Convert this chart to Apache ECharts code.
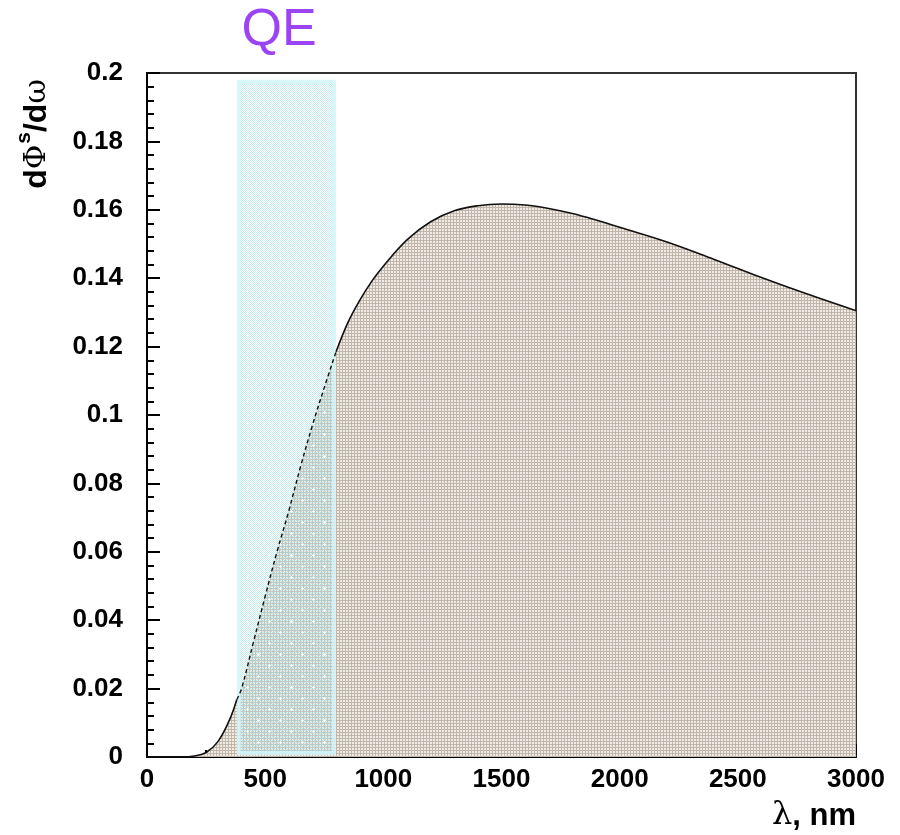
<!DOCTYPE html>
<html>
<head>
<meta charset="utf-8">
<script src="https://cdn.jsdelivr.net/npm/echarts@6/dist/echarts.min.js"></script>
<style>
  html, body { margin: 0; padding: 0; background: #fff; }
  #chart { width: 900px; height: 835px; }
</style>
</head>
<body>
<div id="chart"></div>
<script>
// wavelength (nm) and flux values
var wavelength = [0, 100, 150, 200, 250, 300, 350, 380, 400, 450, 500, 550, 600, 650, 700, 750, 800,
  850, 900, 950, 1000, 1100, 1200, 1300, 1400, 1500, 1600, 1700, 1800, 1900, 2000,
  2200, 2400, 2600, 2800, 3000];
var flux = [0, 0, 0, 0.0003, 0.0013, 0.0045, 0.011, 0.0168, 0.020, 0.0335, 0.047, 0.060, 0.072, 0.085, 0.097, 0.108, 0.1185,
  0.127, 0.1335, 0.139, 0.1435, 0.1512, 0.1565, 0.1597, 0.1612, 0.1617, 0.1614, 0.1604, 0.1589, 0.1570, 0.1549,
  0.1506, 0.1455, 0.1402, 0.1352, 0.1305];
// QE band
var qeRange = [380, 800];
var qeTop = 0.198;
var qeBottom = 0.0006;

var chart = echarts.init(document.getElementById('chart'));

// tan grid pattern for the area fill
function makeFillPattern() {
  var c = document.createElement('canvas');
  c.width = 3; c.height = 3;
  var ctx = c.getContext('2d');
  ctx.fillStyle = '#f0ebe6';
  ctx.fillRect(0, 0, 3, 3);
  ctx.fillStyle = '#c0b6aa';
  ctx.fillRect(0, 0, 3, 1);
  ctx.fillRect(0, 0, 1, 3);
  return c;
}

// cyan checker with white dots for the QE band
function makeBandPattern() {
  var c = document.createElement('canvas');
  c.width = 22; c.height = 22;
  var ctx = c.getContext('2d');
  for (var i = 0; i < 22; i++) {
    for (var j = 0; j < 22; j++) {
      ctx.fillStyle = (i + j) % 2 === 0 ? 'rgba(165,222,226,0.62)' : 'rgba(235,250,250,0.25)';
      ctx.fillRect(i, j, 1, 1);
    }
  }
  ctx.fillStyle = 'rgba(255,255,255,0.85)';
  [[5, 5], [16, 16]].forEach(function (p) {
    ctx.fillRect(p[0] - 1, p[1], 3, 1);
    ctx.fillRect(p[0], p[1] - 1, 1, 3);
  });
  return c;
}

var pts = wavelength.map(function (x, i) { return [x, flux[i]]; });
var solidLeft = pts.filter(function (p) { return p[0] <= qeRange[0]; });
var solidRight = pts.filter(function (p) { return p[0] >= qeRange[1]; });
var dashPts = pts.filter(function (p) {
  return p[0] >= qeRange[0] && p[0] <= qeRange[1];
});

var labelFont = {
  fontFamily: 'Liberation Sans, Arial, sans-serif',
  fontWeight: 'bold',
  fontSize: 26,
  color: '#000'
};

var bandPattern = makeBandPattern();
var fillPattern = makeFillPattern();

function curveSeries(name, data, dashed) {
  return {
    name: name,
    type: 'line',
    data: data,
    smooth: 0.4,
    symbol: 'none',
    z: 4,
    lineStyle: dashed ? { color: '#111', width: 1.4, type: [4, 3] } : { color: '#111', width: 1.6 }
  };
}

var option = {
  backgroundColor: '#fff',
  animation: false,
  grid: {
    left: 147,
    right: 44,
    top: 73,
    bottom: 78,
    show: true,
    borderColor: '#333',
    borderWidth: 2,
    backgroundColor: 'transparent'
  },
  xAxis: {
    type: 'value',
    min: 0,
    max: 3000,
    interval: 500,
    axisLine: { lineStyle: { color: '#000', width: 2 } },
    axisTick: { inside: true, length: 13, lineStyle: { color: '#000', width: 2 } },
    minorTick: { show: true, splitNumber: 2, length: 7, lineStyle: { color: '#000', width: 2 } },
    splitLine: { show: false },
    axisLabel: Object.assign({
      margin: 10,
      showMinLabel: true,
      showMaxLabel: true,
      formatter: function (v) { return String(v); }
    }, labelFont)
  },
  yAxis: {
    type: 'value',
    min: 0,
    max: 0.2,
    interval: 0.02,
    axisLine: { show: true, lineStyle: { color: '#000', width: 2 } },
    axisTick: { show: true, inside: true, length: 13, lineStyle: { color: '#000', width: 2 } },
    minorTick: { show: true, splitNumber: 5, length: 7, lineStyle: { color: '#000', width: 2 } },
    splitLine: { show: false },
    axisLabel: Object.assign({ margin: 24 }, labelFont)
  },
  graphic: [
    {
      type: 'text',
      x: 279, y: 31,
      style: {
        text: 'QE',
        fill: '#9a44f6',
        fontSize: 52,
        fontFamily: 'Liberation Sans, Arial, sans-serif',
        align: 'center',
        verticalAlign: 'middle'
      }
    },
    {
      type: 'text',
      x: 37, y: 134,
      rotation: Math.PI / 2,
      style: {
        text: '{b|d}{g|Φ}{sup|s}{b|/d}{g|ω}',
        align: 'center',
        verticalAlign: 'middle',
        fill: '#000',
        rich: {
          b: { fontFamily: 'Liberation Sans, Arial', fontWeight: 'bold', fontSize: 32, fill: '#000' },
          g: { fontFamily: 'DejaVu Serif, serif', fontSize: 30, fill: '#000' },
          sup: { fontFamily: 'Liberation Sans, Arial', fontWeight: 'bold', fontSize: 21, fill: '#000', padding: [0, 0, 26, 1] }
        }
      }
    },
    {
      type: 'text',
      x: 856, y: 816,
      style: {
        text: '{g|λ}{b|, nm}',
        align: 'right',
        verticalAlign: 'middle',
        fill: '#000',
        rich: {
          b: { fontFamily: 'Liberation Sans, Arial', fontWeight: 'bold', fontSize: 31, fill: '#000' },
          g: { fontFamily: 'DejaVu Serif, serif', fontSize: 32, fill: '#000' }
        }
      }
    }
  ],
  series: [
    {
      name: 'fill',
      type: 'line',
      data: pts,
      smooth: 0.4,
      symbol: 'none',
      z: 1,
      lineStyle: { width: 0 },
      areaStyle: { color: { image: fillPattern, repeat: 'repeat' }, opacity: 1 }
    },
    {
      name: 'QE',
      type: 'custom',
      z: 3,
      silent: true,
      data: [[qeRange[0], qeRange[1], qeBottom, qeTop]],
      renderItem: function (params, api) {
        var p0 = api.coord([api.value(0), api.value(3)]);
        var p1 = api.coord([api.value(1), api.value(2)]);
        return {
          type: 'rect',
          shape: { x: p0[0] + 2, y: p0[1] + 2, width: p1[0] - p0[0] - 4, height: p1[1] - p0[1] - 4 },
          style: {
            fill: { image: bandPattern, repeat: 'repeat' },
            stroke: 'rgba(210,246,248,0.85)',
            lineWidth: 4
          }
        };
      }
    },
    curveSeries('curveL', solidLeft, false),
    curveSeries('curveQE', dashPts, true),
    curveSeries('curveR', solidRight, false)
  ]
};

chart.setOption(option);
</script>
</body>
</html>
